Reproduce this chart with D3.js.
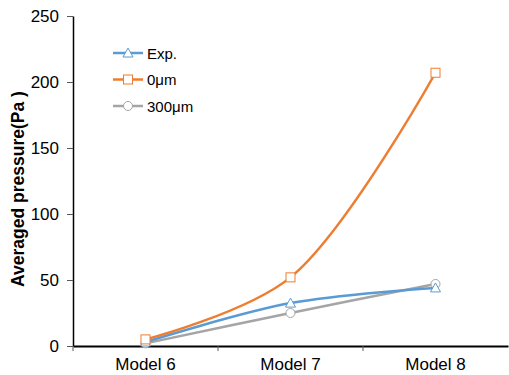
<!DOCTYPE html>
<html>
<head>
<meta charset="utf-8">
<script src="https://cdn.jsdelivr.net/npm/d3@7"></script>
<style>
body { margin: 0; background: #fff; }
text { font-family: "Liberation Sans", Arial, sans-serif; fill: #000; }
</style>
</head>
<body>
<div id="chart"></div>
<script>
var categories = ["Model 6", "Model 7", "Model 8"];
var expValues = [3, 32.5, 44];
var um0Values = [5, 52, 207];
var um300Values = [2, 25, 47];
var yTicks = [0, 50, 100, 150, 200, 250];

var series = [
  { name: "Exp.", values: expValues, color: "#5B9BD5", marker: "triangle" },
  { name: "0μm", values: um0Values, color: "#ED7D31", marker: "square" },
  { name: "300μm", values: um300Values, color: "#A5A5A5", marker: "circle" }
];

var width = 509, height = 375;
var margin = { top: 16, right: 0, bottom: 29, left: 73 };
var plotW = width - margin.left - margin.right,
    plotH = height - margin.top - margin.bottom;

var svg = d3.select("#chart").append("svg")
  .attr("width", width)
  .attr("height", height);

var g = svg.append("g")
  .attr("transform", "translate(" + margin.left + "," + margin.top + ")");

var x = d3.scaleBand()
  .domain(categories)
  .range([0, plotW - 1]);
var y = d3.scaleLinear()
  .domain([0, 250])
  .range([plotH, 0]);

// y axis
var yAxis = g.append("g")
  .call(d3.axisLeft(y).tickValues(yTicks).tickSize(6).tickPadding(8).tickSizeOuter(0));
yAxis.select(".domain").attr("stroke", "#000").attr("stroke-width", 1.5);
yAxis.selectAll(".tick line").attr("stroke", "#595959");
yAxis.selectAll("text").style("font-size", "17px");

// x axis
var xAxis = g.append("g")
  .attr("transform", "translate(0," + plotH + ")")
  .call(d3.axisBottom(x).tickSize(0).tickPadding(12));
xAxis.select(".domain").attr("stroke", "#000").attr("stroke-width", 2);
xAxis.selectAll("text").style("font-size", "17px");
// tick marks between categories
var bounds = [0].concat(categories.map(function (c) { return x(c) + x.bandwidth(); }));
xAxis.selectAll(".bound")
  .data(bounds.slice(0, 3))
  .enter().append("line")
  .attr("x1", function (d) { return d; })
  .attr("x2", function (d) { return d; })
  .attr("y1", 0)
  .attr("y2", 5)
  .attr("stroke", "#595959");

// y label
svg.append("text")
  .attr("transform", "translate(24,189) rotate(-90)")
  .style("text-anchor", "middle")
  .style("font-size", "17.5px")
  .style("font-weight", "bold")
  .text("Averaged pressure(Pa )");

var cx = function (i) { return x(categories[i]) + x.bandwidth() / 2; };

var line = d3.line()
  .x(function (d, i) { return cx(i); })
  .y(function (d) { return y(d); })
  .curve(d3.curveCatmullRom.alpha(0.5));

function drawMarker(sel, type, color, px, py) {
  if (type === "triangle") {
    sel.append("path")
      .attr("d", "M" + px + "," + (py - 5) + "L" + (px + 5) + "," + (py + 4) + "L" + (px - 5) + "," + (py + 4) + "Z")
      .attr("fill", "#fff").attr("stroke", color).attr("stroke-width", 1);
  } else if (type === "square") {
    sel.append("rect")
      .attr("x", px - 4.5).attr("y", py - 4.5).attr("width", 9).attr("height", 9)
      .attr("fill", "#fff").attr("stroke", color).attr("stroke-width", 1);
  } else {
    sel.append("circle")
      .attr("cx", px).attr("cy", py).attr("r", 4.5)
      .attr("fill", "#fff").attr("stroke", color).attr("stroke-width", 1);
  }
}

var drawOrder = [2, 0, 1];
drawOrder.forEach(function (k) {
  var s = series[k];
  g.append("path")
    .attr("d", line(s.values))
    .attr("fill", "none")
    .attr("stroke", s.color)
    .attr("stroke-width", 2.5);
});
drawOrder.forEach(function (k) {
  var s = series[k];
  var mg = g.append("g");
  s.values.forEach(function (v, i) {
    drawMarker(mg, s.marker, s.color, cx(i), y(v));
  });
});

// legend
var legend = svg.append("g").attr("transform", "translate(113,53)");
series.forEach(function (s, i) {
  var row = legend.append("g").attr("transform", "translate(0," + (i * 26.5) + ")");
  row.append("line")
    .attr("x1", 0).attr("x2", 30).attr("y1", 0).attr("y2", 0)
    .attr("stroke", s.color).attr("stroke-width", 2.5);
  drawMarker(row, s.marker, s.color, 15, 0);
  row.append("text")
    .attr("x", 34).attr("y", 5.5)
    .style("font-size", "15px")
    .text(s.name);
});
</script>
</body>
</html>
